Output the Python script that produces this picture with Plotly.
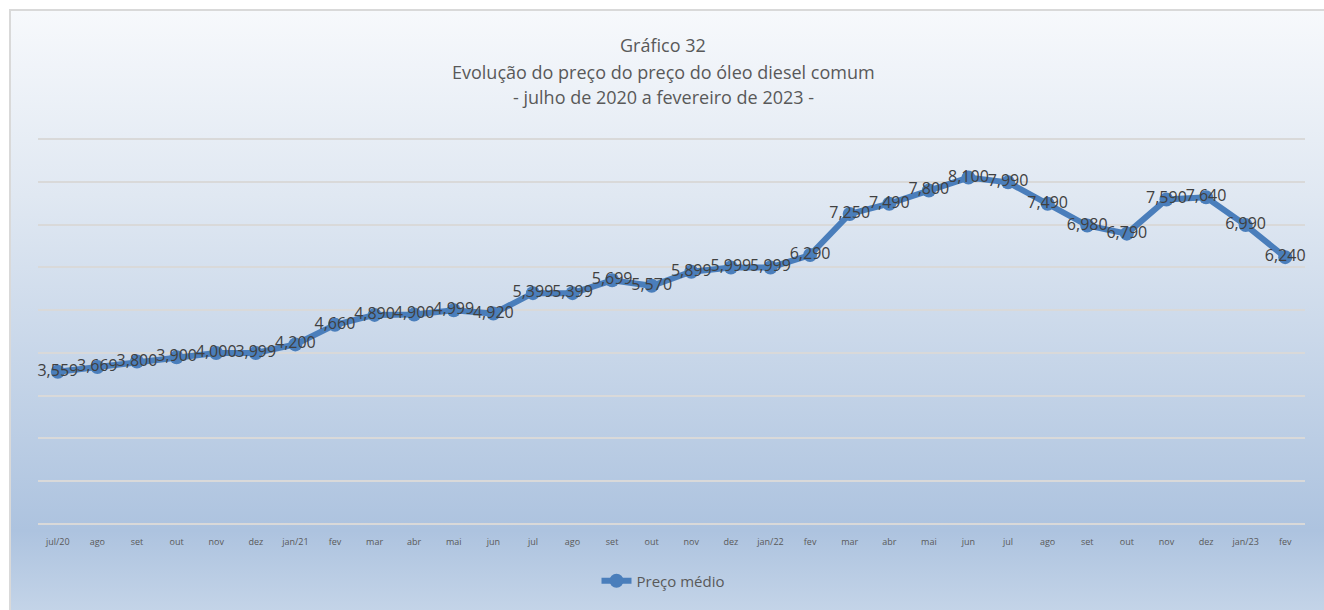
import base64
import plotly.graph_objects as go

months = ["jul/20", "ago", "set", "out", "nov", "dez", "jan/21", "fev", "mar", "abr", "mai", "jun",
          "jul", "ago", "set", "out", "nov", "dez", "jan/22", "fev", "mar", "abr", "mai", "jun",
          "jul", "ago", "set", "out", "nov", "dez", "jan/23", "fev"]
prices = [3.559, 3.669, 3.800, 3.900, 4.000, 3.999, 4.200, 4.660, 4.890, 4.900, 4.999, 4.920,
          5.399, 5.399, 5.699, 5.570, 5.899, 5.999, 5.999, 6.290, 7.250, 7.490, 7.800, 8.100,
          7.990, 7.490, 6.980, 6.790, 7.590, 7.640, 6.990, 6.240]
series_name = "Preço médio"
title_lines = ["Gráfico 32",
               "Evolução do preço do preço do óleo diesel comum",
               "- julho de 2020 a fevereiro de 2023 -"]

W, H = 1324, 610
L, R, T, B = 38, 1305, 137, 524
pw, ph = R - L, B - T
YMAX = 9
ytop = YMAX + 0.05

# gradient background (as SVG image)
bx0, by0 = 9, 9
bw, bh = W - bx0 + 20, H - by0 + 20
svg = f'''<svg xmlns="http://www.w3.org/2000/svg" width="{bw}" height="{bh}" viewBox="0 0 {bw} {bh}" preserveAspectRatio="none">
<defs><linearGradient id="g" x1="0" y1="0" x2="0" y2="1">
<stop offset="0" stop-color="#f7f9fc"/>
<stop offset="0.3" stop-color="#e0e8f2"/>
<stop offset="0.84" stop-color="#adc3df"/>
<stop offset="1" stop-color="#c9d8ea"/>
</linearGradient></defs>
<rect x="0" y="0" width="{bw}" height="{bh}" fill="url(#g)"/>
<line x1="0" y1="1" x2="{bw}" y2="1" stroke="#d9d9d9" stroke-width="2"/>
<line x1="1" y1="0" x2="1" y2="{bh}" stroke="#d9d9d9" stroke-width="2"/>
</svg>'''
src = "data:image/svg+xml;base64," + base64.b64encode(svg.encode()).decode()

labels = [f"{v:.3f}".replace(".", ",") for v in prices]
xs = list(range(len(months)))

fig = go.Figure()
fig.add_trace(go.Scatter(
    x=xs, y=prices, mode="lines+markers+text", name=series_name,
    line=dict(color="#4a7ebb", width=6),
    marker=dict(size=14, color="#4a7ebb"),
    text=labels, textposition="middle center",
    textfont=dict(family="Open Sans", size=16, color="#404040"),
    cliponaxis=False,
))

fig.add_layout_image(dict(
    source=src, xref="paper", yref="paper",
    x=(bx0 - L) / pw, y=(B - by0) / ph,
    sizex=bw / pw, sizey=bh / ph,
    xanchor="left", yanchor="top", sizing="stretch", layer="below",
))

title_y = [45, 72, 97]
for txt, yy in zip(title_lines, title_y):
    fig.add_annotation(text=txt, xref="paper", yref="paper", x=(663 - L) / pw, y=(B - yy) / ph,
                       xanchor="center", yanchor="middle", showarrow=False,
                       font=dict(family="Open Sans", size=18, color="#595959"))

fig.update_layout(
    width=W, height=H,
    margin=dict(l=L, r=W - R, t=T, b=H - B),
    paper_bgcolor="white", plot_bgcolor="rgba(0,0,0,0)",
    showlegend=True,
    legend=dict(orientation="h", x=(663 - L) / pw, xanchor="center", y=(B - 581) / ph,
                yanchor="middle",
                font=dict(family="Open Sans", size=15, color="#595959"), bgcolor="rgba(0,0,0,0)"),
    xaxis=dict(range=[-0.5, len(months) - 0.5], tickvals=xs, ticktext=months, showgrid=False,
               zeroline=False, showline=False, ticks="", ticklabelstandoff=11,
               tickfont=dict(family="Open Sans", size=9, color="#595959"), tickangle=0),
    yaxis=dict(range=[0, ytop], tickvals=list(range(0, YMAX + 1)), showticklabels=False, showgrid=True,
               gridcolor="#d9d9d9", gridwidth=1.5, zeroline=True, zerolinecolor="#d9d9d9",
               zerolinewidth=1.5, showline=False),
)

fig.write_html("out.html", config={"displayModeBar": False},
               post_script="document.body.style.margin='0';document.body.style.overflow='hidden';")
